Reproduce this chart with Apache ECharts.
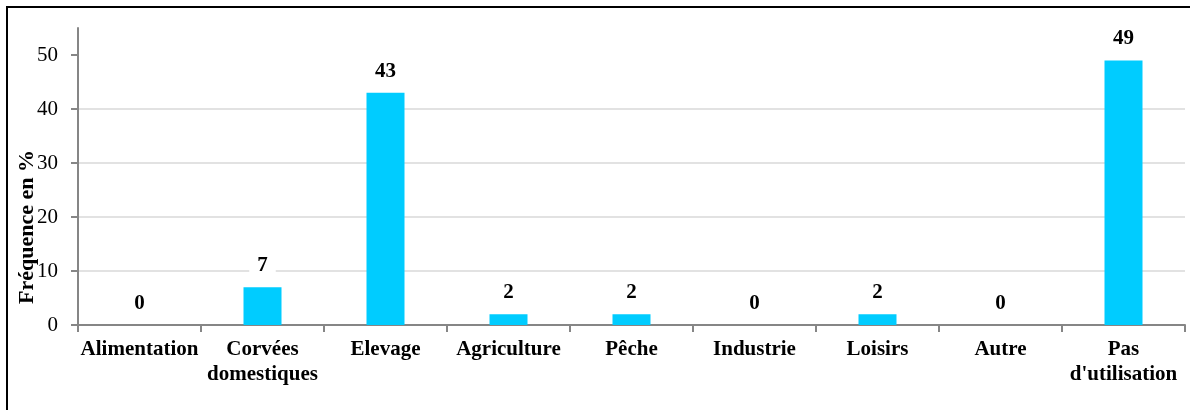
<!DOCTYPE html>
<html>
<head>
<meta charset="utf-8">
<script src="https://cdn.jsdelivr.net/npm/echarts@6/dist/echarts.min.js"></script>
<style>
  html, body { margin: 0; padding: 0; background: #fff; }
  #chart { width: 1190px; height: 410px; }
</style>
</head>
<body>
<div id="chart"></div>
<script>
// Usages and their share of respondents (%)
const categories = ['Alimentation', 'Corvées\ndomestiques', 'Elevage', 'Agriculture', 'Pêche',
                    'Industrie', 'Loisirs', 'Autre', 'Pas\nd\'utilisation'];
const frequencies = [0, 7, 43, 2, 2, 0, 2, 0, 49];
const yTicks = [0, 10, 20, 30, 40, 50];
const yTitle = 'Fréquence en %';

const serif = '"Liberation Serif", "Times New Roman", serif';
const axisGray = '#868686';

const chart = echarts.init(document.getElementById('chart'), null, { renderer: 'canvas' });

chart.setOption({
  animation: false,
  backgroundColor: '#ffffff',
  grid: { left: 78, right: 5, top: 28, bottom: 85, containLabel: false },
  xAxis: {
    type: 'category',
    data: categories,
    boundaryGap: true,
    axisLine: { show: true, lineStyle: { color: axisGray, width: 2 } },
    axisTick: { show: true, alignWithLabel: false, length: 7, lineStyle: { color: axisGray, width: 2 } },
    axisLabel: {
      interval: 0,
      margin: 12,
      color: '#000',
      fontFamily: serif,
      fontWeight: 'bold',
      fontSize: 21,
      lineHeight: 25
    },
    splitLine: { show: false }
  },
  yAxis: {
    type: 'value',
    min: 0,
    max: 55,
    interval: 10,
    axisLine: { show: true, lineStyle: { color: axisGray, width: 2 } },
    axisTick: { show: true, length: 7, customValues: yTicks, lineStyle: { color: axisGray, width: 2 } },
    axisLabel: {
      customValues: yTicks,
      margin: 20,
      color: '#000',
      fontFamily: serif,
      fontSize: 21
    },
    splitLine: { show: true, showMaxLine: false, lineStyle: { color: '#d9d9d9', width: 1.5 } }
  },
  series: [{
    type: 'bar',
    data: frequencies,
    barWidth: 38,
    itemStyle: { color: '#00ccff' },
    label: {
      show: true,
      position: 'top',
      distance: 8,
      color: '#000',
      fontFamily: serif,
      fontWeight: 'bold',
      fontSize: 21,
      backgroundColor: '#ffffff',
      padding: [3, 8]
    }
  }],
  graphic: [
    {
      type: 'rect',
      silent: true,
      z: 100,
      shape: { x: 7, y: 7, width: 1300, height: 500 },
      style: { fill: 'none', stroke: '#000', lineWidth: 2 }
    },
    {
      type: 'text',
      silent: true,
      x: 27,
      y: 227,
      rotation: Math.PI / 2,
      style: {
        text: yTitle,
        fill: '#000',
        font: 'bold 22px ' + serif,
        textAlign: 'center',
        textVerticalAlign: 'middle'
      }
    }
  ]
});
</script>
</body>
</html>
